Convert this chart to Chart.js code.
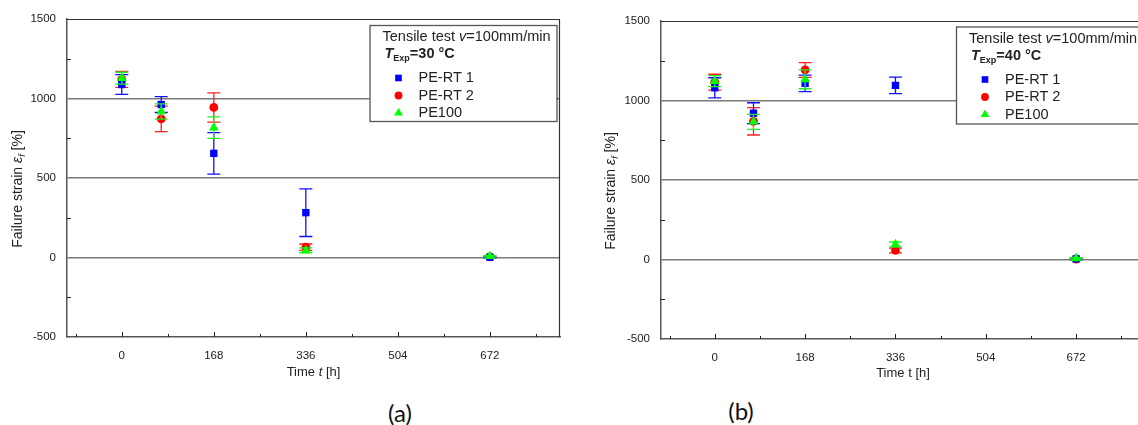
<!DOCTYPE html>
<html>
<head>
<meta charset="utf-8">
<script src="https://cdn.jsdelivr.net/npm/chart.js@4.4.1/dist/chart.umd.min.js"></script>
<style>
  html, body { margin: 0; padding: 0; background: #fff; overflow: hidden; width: 1138px; height: 425px; }
  .panel { position: absolute; top: 0; }
  #wrapA { left: 0; }
  #wrapB { left: 590px; }
  .cap { position: absolute; font-family: Lato, "Open Sans", sans-serif; font-size: 24px; color: #111; transform: translate(-50%, -50%); }
</style>
</head>
<body>
<div class="panel" id="wrapA"><canvas id="chartA" width="580" height="385"></canvas></div>
<div class="panel" id="wrapB"><canvas id="chartB" width="575" height="385"></canvas></div>
<div class="cap" style="left:400px; top:412px;">(a)</div>
<div class="cap" style="left:741px; top:410px;">(b)</div>
<script>
// time in hours
const timesA = [0, 72, 168, 336, 672];
const timesB = [0, 72, 168, 336, 672];

// (a) T_Exp = 30 °C
const peRt1A = [1088, 962, 655, 282, 2];
const peRt1ErrA = [62, 50, 130, 150, 4];
const peRt2A = [1120, 872, 944, 65, 4];
const peRt2ErrA = [50, 80, 92, 20, 4];
const pe100A = [1128, 918, 817, 45, 8];
const pe100ErrA = [37, 48, 68, 15, 5];

// (b) T_Exp = 40 °C
const peRt1B = [1080, 920, 1108, 1095, 4];
const peRt1ErrB = [63, 66, 52, 52, 5];
const peRt2B = [1115, 869, 1192, 57, 3];
const peRt2ErrB = [50, 86, 46, 15, 4];
const pe100B = [1122, 866, 1133, 95, 7];
const pe100ErrB = [35, 47, 59, 15, 5];

const seriesNames = ['PE-RT 1', 'PE-RT 2', 'PE100'];
const xTickLabels = [0, 168, 336, 504, 672];
const yTickLabels = [-500, 0, 500, 1000, 1500];

const FONT = '"Liberation Sans", Arial, sans-serif';
Chart.defaults.font.family = FONT;

function makeSets(times, blue, blueErr, red, redErr, green, greenErr) {
    const pts = vals => vals.map((v, i) => ({ x: times[i], y: v }));
    return [
        { label: seriesNames[0], data: pts(blue), errors: blueErr, pointStyle: 'rect', pointRadius: 5.2,
          backgroundColor: '#0000ff', barColor: '#1010ff', order: 1 },
        { label: seriesNames[1], data: pts(red), errors: redErr, pointStyle: 'circle', pointRadius: 4.4,
          backgroundColor: '#ff0000', barColor: '#ff2020', order: 2 },
        { label: seriesNames[2], data: pts(green), errors: greenErr, pointStyle: 'triangle', pointRadius: 5.6,
          backgroundColor: '#00ff00', barColor: '#22ee22', order: 0 }
    ];
}

// error bars, drawn just under each series' own markers
const errorBars = {
    id: 'errorBars',
    beforeDatasetDraw(chart, args) {
        const ds = chart.data.datasets[args.index];
        if (!ds.errors) return;
        const ctx = chart.ctx, y = chart.scales.y;
        ctx.save();
        ctx.strokeStyle = ds.barColor;
        ctx.lineWidth = 1.3;
        args.meta.data.forEach((pt, i) => {
            const v = ds.data[i].y, e = ds.errors[i];
            const top = y.getPixelForValue(v + e), bot = y.getPixelForValue(v - e);
            ctx.beginPath();
            ctx.moveTo(pt.x, top); ctx.lineTo(pt.x, bot);
            ctx.moveTo(pt.x - 6.5, top); ctx.lineTo(pt.x + 6.5, top);
            ctx.moveTo(pt.x - 6.5, bot); ctx.lineTo(pt.x + 6.5, bot);
            ctx.stroke();
        });
        ctx.restore();
    }
};

// top/right frame and the small inward ticks
const frame = {
    id: 'frame',
    beforeDatasetsDraw(chart) {
        const { ctx, chartArea: a, scales: { x, y } } = chart;
        ctx.save();
        ctx.strokeStyle = '#333';
        ctx.lineWidth = 1.2;
        ctx.beginPath();
        ctx.moveTo(a.left, a.top + 0.5);
        ctx.lineTo(a.right - 0.5, a.top + 0.5);
        ctx.lineTo(a.right - 0.5, a.bottom);
        ctx.stroke();
        ctx.strokeStyle = '#222';
        ctx.lineWidth = 1;
        x.ticks.forEach(t => {
            const px = Math.round(x.getPixelForValue(t.value)) + 0.5;
            const len = t.value % 168 === 0 ? 5 : 3;
            ctx.beginPath();
            ctx.moveTo(px, a.bottom);
            ctx.lineTo(px, a.bottom - len);
            ctx.stroke();
        });
        y.ticks.forEach(t => {
            if (t.value % 500 === 0) return;
            const py = Math.round(y.getPixelForValue(t.value)) + 0.5;
            ctx.beginPath();
            ctx.moveTo(a.left, py);
            ctx.lineTo(a.left + 4, py);
            ctx.stroke();
        });
        ctx.restore();
    }
};

function drawRuns(ctx, runs, x, y) {
    runs.forEach(r => {
        ctx.font = r.font;
        ctx.fillText(r.text, x, y + (r.dy || 0));
        x += ctx.measureText(r.text).width;
    });
    return x;
}
function runsWidth(ctx, runs) {
    let w = 0;
    runs.forEach(r => { ctx.font = r.font; w += ctx.measureText(r.text).width; });
    return w;
}

// axis titles (italic symbols) and the boxed legend
const annotations = {
    id: 'annotations',
    afterDraw(chart, args, opts) {
        const { ctx, chartArea: a } = chart;
        ctx.save();
        ctx.fillStyle = '#222';
        ctx.textBaseline = 'middle';

        // y title, rotated
        const yRuns = [
            { text: 'Failure strain ', font: '14px ' + FONT },
            { text: 'ε', font: 'italic 14px ' + FONT },
            { text: 'f', font: 'italic 9px ' + FONT, dy: 4 },
            { text: ' [%]', font: '14px ' + FONT }
        ];
        ctx.save();
        ctx.translate(opts.yTitleX, (a.top + a.bottom) / 2 + 11);
        ctx.rotate(-Math.PI / 2);
        drawRuns(ctx, yRuns, -runsWidth(ctx, yRuns) / 2, 0);
        ctx.restore();

        // x title
        const xRuns = [
            { text: 'Time ', font: '13px ' + FONT },
            { text: 't', font: (opts.italicT ? 'italic ' : '') + '13px ' + FONT },
            { text: ' [h]', font: '13px ' + FONT }
        ];
        drawRuns(ctx, xRuns, (a.left + a.right) / 2 - runsWidth(ctx, xRuns) / 2, opts.xTitleY);

        // legend box
        const L = opts.legend;
        ctx.fillStyle = '#fff';
        ctx.fillRect(L.left, L.top, L.width, L.height);
        ctx.strokeStyle = '#555';
        ctx.lineWidth = 1.3;
        ctx.strokeRect(L.left + 0.5, L.top + 0.5, L.width, L.height);
        ctx.fillStyle = '#222';
        drawRuns(ctx, [
            { text: 'Tensile test ', font: '14.5px ' + FONT },
            { text: 'v', font: 'italic 14.5px ' + FONT },
            { text: '=100mm/min', font: '14.5px ' + FONT }
        ], L.left + 13, L.top + 12);
        drawRuns(ctx, [
            { text: 'T', font: 'bold italic 14.5px ' + FONT },
            { text: 'Exp', font: 'bold 9px ' + FONT, dy: 5 },
            { text: '=' + opts.temp + ' °C', font: 'bold 14.5px ' + FONT }
        ], L.left + 15, L.top + 29);
        seriesNames.forEach((name, i) => {
            const ds = chart.data.datasets.find(d => d.label === name);
            const cy = L.top + 53 + i * 17.5;
            ctx.fillStyle = ds.backgroundColor;
            Chart.helpers.drawPoint(ctx, { pointStyle: ds.pointStyle, radius: ds.pointRadius - 0.5, rotation: 0, borderWidth: 0 }, L.left + 29, cy);
            ctx.fillStyle = '#222';
            ctx.font = '14.5px ' + FONT;
            ctx.fillText(name, L.left + 49, cy);
        });
        ctx.restore();
    }
};

function makeChart(canvasId, datasets, geo) {
    return new Chart(document.getElementById(canvasId).getContext('2d'), {
        type: 'scatter',
        data: { datasets: datasets },
        options: {
            responsive: false,
            animation: false,
            events: [],
            layout: { padding: { left: 0, top: geo.top, right: geo.right, bottom: 0 } },
            elements: { point: { borderWidth: 0 } },
            plugins: {
                legend: { display: false },
                tooltip: { enabled: false },
                annotations: geo.annot
            },
            scales: {
                x: {
                    type: 'linear', min: -100, max: 800,
                    afterFit: s => { s.height = geo.xHeight; },
                    ticks: {
                        stepSize: 84, includeBounds: false, autoSkip: false, maxRotation: 0,
                        padding: 12, color: '#222', font: { size: 11.5 },
                        callback: v => xTickLabels.includes(v) ? String(v) : ''
                    },
                    grid: { display: false, drawTicks: false },
                    border: { display: true, color: '#555', width: 1.5 }
                },
                y: {
                    min: -500, max: 1500,
                    afterFit: s => { s.width = geo.left; },
                    ticks: {
                        stepSize: 250, includeBounds: false, autoSkip: false,
                        padding: 11, color: '#222', font: { size: 11.5 },
                        callback: v => yTickLabels.includes(v) ? String(v) : ''
                    },
                    grid: {
                        drawTicks: false, lineWidth: 1.5,
                        color: c => (c.tick && [0, 500, 1000].includes(c.tick.value)) ? '#7a7a7a' : 'rgba(0,0,0,0)'
                    },
                    border: { display: true, color: '#555', width: 1.5 }
                }
            }
        },
        plugins: [frame, errorBars, annotations]
    });
}

makeChart('chartA', makeSets(timesA, peRt1A, peRt1ErrA, peRt2A, peRt2ErrA, pe100A, pe100ErrA), {
    left: 67, top: 19, right: 20, xHeight: 48,
    annot: { temp: 30, italicT: true, yTitleX: 18, xTitleY: 372,
             legend: { left: 369.5, top: 25, width: 187, height: 96 } }
});

makeChart('chartB', makeSets(timesB, peRt1B, peRt1ErrB, peRt2B, peRt2ErrB, pe100B, pe100ErrB), {
    left: 71, top: 21, right: 20, xHeight: 46,
    annot: { temp: 40, italicT: false, yTitleX: 21, xTitleY: 373,
             legend: { left: 366, top: 26.5, width: 200, height: 97 } }
});
</script>
</body>
</html>
